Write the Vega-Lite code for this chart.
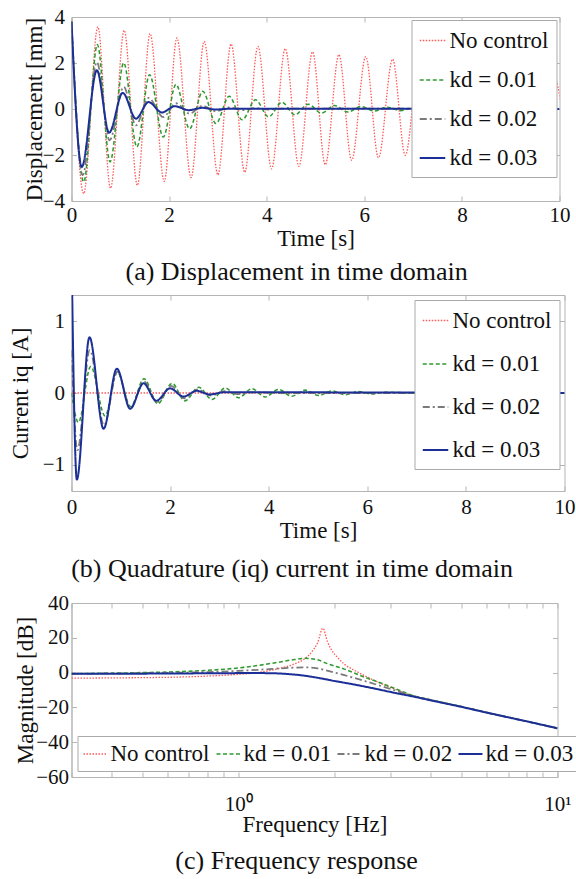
{
  "$schema": "https://vega.github.io/schema/vega-lite/v6.json",
  "padding": {"left": 8.5, "top": 5, "right": 0, "bottom": 0},
  "background": "white",
  "spacing": 8,
  "datasets": {
    "disp": [
      {"t":0,"v":3.8,"s":"No control"},{"t":0.25,"v":-3.68,"s":"No control"},{"t":0.54,"v":3.57,"s":"No control"},{"t":0.8,"v":-3.45,"s":"No control"},{"t":1.08,"v":3.42,"s":"No control"},{"t":1.35,"v":-3.32,"s":"No control"},{"t":1.61,"v":3.28,"s":"No control"},{"t":1.9,"v":-3.15,"s":"No control"},{"t":2.16,"v":3.09,"s":"No control"},{"t":2.45,"v":-2.98,"s":"No control"},{"t":2.72,"v":2.94,"s":"No control"},{"t":3.0,"v":-2.86,"s":"No control"},{"t":3.27,"v":2.82,"s":"No control"},{"t":3.55,"v":-2.75,"s":"No control"},{"t":3.82,"v":2.72,"s":"No control"},{"t":4.1,"v":-2.6,"s":"No control"},{"t":4.38,"v":2.62,"s":"No control"},{"t":4.66,"v":-2.49,"s":"No control"},{"t":4.94,"v":2.48,"s":"No control"},{"t":5.2,"v":-2.42,"s":"No control"},{"t":5.48,"v":2.36,"s":"No control"},{"t":5.74,"v":-2.23,"s":"No control"},{"t":6.03,"v":2.28,"s":"No control"},{"t":6.29,"v":-2.12,"s":"No control"},{"t":6.58,"v":2.16,"s":"No control"},{"t":6.84,"v":-2.01,"s":"No control"},{"t":7.12,"v":2.0,"s":"No control"},{"t":7.39,"v":-1.93,"s":"No control"},{"t":7.67,"v":1.88,"s":"No control"},{"t":7.94,"v":-1.82,"s":"No control"},{"t":8.22,"v":1.77,"s":"No control"},{"t":8.49,"v":-1.72,"s":"No control"},{"t":8.77,"v":1.67,"s":"No control"},{"t":9.04,"v":-1.62,"s":"No control"},{"t":9.32,"v":1.58,"s":"No control"},{"t":9.59,"v":-1.53,"s":"No control"},{"t":9.87,"v":1.48,"s":"No control"},{"t":10.14,"v":-1.45,"s":"No control"},
      {"t":0,"v":3.8,"s":"kd = 0.01"},{"t":0.25,"v":-3.17,"s":"kd = 0.01"},{"t":0.53,"v":2.8,"s":"kd = 0.01"},{"t":0.79,"v":-2.3,"s":"kd = 0.01"},{"t":1.07,"v":2.01,"s":"kd = 0.01"},{"t":1.34,"v":-1.65,"s":"kd = 0.01"},{"t":1.6,"v":1.49,"s":"kd = 0.01"},{"t":1.88,"v":-1.22,"s":"kd = 0.01"},{"t":2.14,"v":1.07,"s":"kd = 0.01"},{"t":2.42,"v":-0.86,"s":"kd = 0.01"},{"t":2.69,"v":0.77,"s":"kd = 0.01"},{"t":2.96,"v":-0.63,"s":"kd = 0.01"},{"t":3.23,"v":0.55,"s":"kd = 0.01"},{"t":3.5,"v":-0.47,"s":"kd = 0.01"},{"t":3.77,"v":0.4,"s":"kd = 0.01"},{"t":4.04,"v":-0.34,"s":"kd = 0.01"},{"t":4.31,"v":0.29,"s":"kd = 0.01"},{"t":4.58,"v":-0.25,"s":"kd = 0.01"},{"t":4.85,"v":0.21,"s":"kd = 0.01"},{"t":5.12,"v":-0.18,"s":"kd = 0.01"},{"t":5.39,"v":0.15,"s":"kd = 0.01"},{"t":5.66,"v":-0.13,"s":"kd = 0.01"},{"t":5.93,"v":0.11,"s":"kd = 0.01"},{"t":6.2,"v":-0.09,"s":"kd = 0.01"},{"t":6.47,"v":0.08,"s":"kd = 0.01"},{"t":6.74,"v":-0.07,"s":"kd = 0.01"},{"t":7.01,"v":0.06,"s":"kd = 0.01"},{"t":7.28,"v":-0.05,"s":"kd = 0.01"},{"t":7.55,"v":0.04,"s":"kd = 0.01"},{"t":7.82,"v":-0.035,"s":"kd = 0.01"},{"t":8.09,"v":0.03,"s":"kd = 0.01"},{"t":8.36,"v":-0.025,"s":"kd = 0.01"},{"t":8.63,"v":0.02,"s":"kd = 0.01"},{"t":10,"v":0,"s":"kd = 0.01"},
      {"t":0,"v":3.8,"s":"kd = 0.02"},{"t":0.23,"v":-2.88,"s":"kd = 0.02"},{"t":0.52,"v":2.04,"s":"kd = 0.02"},{"t":0.78,"v":-1.36,"s":"kd = 0.02"},{"t":1.07,"v":0.96,"s":"kd = 0.02"},{"t":1.32,"v":-0.71,"s":"kd = 0.02"},{"t":1.58,"v":0.48,"s":"kd = 0.02"},{"t":1.88,"v":-0.35,"s":"kd = 0.02"},{"t":2.14,"v":0.25,"s":"kd = 0.02"},{"t":2.42,"v":-0.2,"s":"kd = 0.02"},{"t":2.69,"v":0.14,"s":"kd = 0.02"},{"t":2.96,"v":-0.1,"s":"kd = 0.02"},{"t":3.23,"v":0.07,"s":"kd = 0.02"},{"t":3.5,"v":-0.05,"s":"kd = 0.02"},{"t":3.77,"v":0.035,"s":"kd = 0.02"},{"t":4.04,"v":-0.025,"s":"kd = 0.02"},{"t":4.31,"v":0.015,"s":"kd = 0.02"},{"t":10,"v":0,"s":"kd = 0.02"},
      {"t":0,"v":3.8,"s":"kd = 0.03"},{"t":0.21,"v":-2.52,"s":"kd = 0.03"},{"t":0.52,"v":1.68,"s":"kd = 0.03"},{"t":0.77,"v":-1.03,"s":"kd = 0.03"},{"t":1.05,"v":0.7,"s":"kd = 0.03"},{"t":1.32,"v":-0.42,"s":"kd = 0.03"},{"t":1.58,"v":0.3,"s":"kd = 0.03"},{"t":1.85,"v":-0.15,"s":"kd = 0.03"},{"t":2.12,"v":0.12,"s":"kd = 0.03"},{"t":2.4,"v":-0.05,"s":"kd = 0.03"},{"t":2.68,"v":0.05,"s":"kd = 0.03"},{"t":2.95,"v":-0.02,"s":"kd = 0.03"},{"t":3.25,"v":0.01,"s":"kd = 0.03"},{"t":10,"v":0,"s":"kd = 0.03"}
    ],
    "curr": [
      {"t":0,"v":0,"s":"No control"},{"t":10,"v":0,"s":"No control"},
      {"t":0,"v":0,"s":"kd = 0.01"},{"t":0.14,"v":-0.41,"s":"kd = 0.01"},{"t":0.39,"v":0.37,"s":"kd = 0.01"},{"t":0.68,"v":-0.32,"s":"kd = 0.01"},{"t":0.93,"v":0.29,"s":"kd = 0.01"},{"t":1.2,"v":-0.19,"s":"kd = 0.01"},{"t":1.47,"v":0.2,"s":"kd = 0.01"},{"t":1.75,"v":-0.15,"s":"kd = 0.01"},{"t":2.04,"v":0.135,"s":"kd = 0.01"},{"t":2.3,"v":-0.11,"s":"kd = 0.01"},{"t":2.58,"v":0.08,"s":"kd = 0.01"},{"t":2.85,"v":-0.09,"s":"kd = 0.01"},{"t":3.12,"v":0.07,"s":"kd = 0.01"},{"t":3.39,"v":-0.065,"s":"kd = 0.01"},{"t":3.66,"v":0.06,"s":"kd = 0.01"},{"t":3.93,"v":-0.055,"s":"kd = 0.01"},{"t":4.2,"v":0.05,"s":"kd = 0.01"},{"t":4.47,"v":-0.045,"s":"kd = 0.01"},{"t":4.74,"v":0.04,"s":"kd = 0.01"},{"t":5.01,"v":-0.035,"s":"kd = 0.01"},{"t":5.28,"v":0.03,"s":"kd = 0.01"},{"t":5.55,"v":-0.025,"s":"kd = 0.01"},{"t":5.82,"v":0.02,"s":"kd = 0.01"},{"t":6.09,"v":-0.015,"s":"kd = 0.01"},{"t":6.36,"v":0.01,"s":"kd = 0.01"},{"t":7,"v":0,"s":"kd = 0.01"},{"t":10,"v":0,"s":"kd = 0.01"},
      {"t":0,"v":0.6,"s":"kd = 0.02"},{"t":0.12,"v":-0.8,"s":"kd = 0.02"},{"t":0.37,"v":0.6,"s":"kd = 0.02"},{"t":0.66,"v":-0.45,"s":"kd = 0.02"},{"t":0.93,"v":0.3,"s":"kd = 0.02"},{"t":1.2,"v":-0.21,"s":"kd = 0.02"},{"t":1.47,"v":0.16,"s":"kd = 0.02"},{"t":1.74,"v":-0.13,"s":"kd = 0.02"},{"t":2.02,"v":0.1,"s":"kd = 0.02"},{"t":2.29,"v":-0.075,"s":"kd = 0.02"},{"t":2.56,"v":0.05,"s":"kd = 0.02"},{"t":2.83,"v":-0.035,"s":"kd = 0.02"},{"t":3.1,"v":0.025,"s":"kd = 0.02"},{"t":3.37,"v":-0.015,"s":"kd = 0.02"},{"t":3.64,"v":0.01,"s":"kd = 0.02"},{"t":4.2,"v":0,"s":"kd = 0.02"},{"t":10,"v":0,"s":"kd = 0.02"},
      {"t":0,"v":2.0,"s":"kd = 0.03"},{"t":0.108,"v":-1.21,"s":"kd = 0.03"},{"t":0.365,"v":0.78,"s":"kd = 0.03"},{"t":0.65,"v":-0.5,"s":"kd = 0.03"},{"t":0.92,"v":0.34,"s":"kd = 0.03"},{"t":1.19,"v":-0.22,"s":"kd = 0.03"},{"t":1.46,"v":0.135,"s":"kd = 0.03"},{"t":1.72,"v":-0.11,"s":"kd = 0.03"},{"t":2.0,"v":0.065,"s":"kd = 0.03"},{"t":2.27,"v":-0.05,"s":"kd = 0.03"},{"t":2.54,"v":0.03,"s":"kd = 0.03"},{"t":2.8,"v":-0.02,"s":"kd = 0.03"},{"t":3.1,"v":0.01,"s":"kd = 0.03"},{"t":10,"v":0,"s":"kd = 0.03"}
    ],
    "freq": [
      {"f":0.3,"v":-3.2,"s":"No control"},{"f":0.4,"v":-3.05,"s":"No control"},{"f":0.5,"v":-2.9,"s":"No control"},{"f":0.64,"v":-2.6,"s":"No control"},{"f":0.8,"v":-2.0,"s":"No control"},{"f":0.97,"v":-1.2,"s":"No control"},{"f":1.15,"v":0.0,"s":"No control"},{"f":1.33,"v":2.2,"s":"No control"},{"f":1.5,"v":5.0,"s":"No control"},{"f":1.61,"v":7.8,"s":"No control"},{"f":1.7,"v":12,"s":"No control"},{"f":1.77,"v":17,"s":"No control"},{"f":1.84,"v":25.5,"s":"No control"},{"f":1.9,"v":18,"s":"No control"},{"f":1.95,"v":13.6,"s":"No control"},{"f":2.05,"v":8.5,"s":"No control"},{"f":2.15,"v":4.8,"s":"No control"},{"f":2.3,"v":1.5,"s":"No control"},{"f":2.44,"v":-1.0,"s":"No control"},{"f":2.74,"v":-5.5,"s":"No control"},{"f":3.1,"v":-9.5,"s":"No control"},{"f":3.5,"v":-13.3,"s":"No control"},{"f":4,"v":-15.7,"s":"No control"},{"f":5,"v":-19.6,"s":"No control"},{"f":6,"v":-22.9,"s":"No control"},{"f":7,"v":-25.6,"s":"No control"},{"f":8,"v":-28.0,"s":"No control"},{"f":9,"v":-30.1,"s":"No control"},{"f":10,"v":-32.0,"s":"No control"},
      {"f":0.3,"v":-0.6,"s":"kd = 0.01"},{"f":0.5,"v":0.0,"s":"kd = 0.01"},{"f":0.64,"v":0.5,"s":"kd = 0.01"},{"f":0.8,"v":1.3,"s":"kd = 0.01"},{"f":1.04,"v":3.0,"s":"kd = 0.01"},{"f":1.33,"v":5.9,"s":"kd = 0.01"},{"f":1.5,"v":7.5,"s":"kd = 0.01"},{"f":1.62,"v":8.2,"s":"kd = 0.01"},{"f":1.75,"v":7.6,"s":"kd = 0.01"},{"f":1.91,"v":5.0,"s":"kd = 0.01"},{"f":2.15,"v":2.0,"s":"kd = 0.01"},{"f":2.49,"v":-2.7,"s":"kd = 0.01"},{"f":2.74,"v":-5.4,"s":"kd = 0.01"},{"f":3.1,"v":-9.2,"s":"kd = 0.01"},{"f":3.5,"v":-13.0,"s":"kd = 0.01"},{"f":4,"v":-15.6,"s":"kd = 0.01"},{"f":5,"v":-19.5,"s":"kd = 0.01"},{"f":6,"v":-22.9,"s":"kd = 0.01"},{"f":7,"v":-25.6,"s":"kd = 0.01"},{"f":8,"v":-28.0,"s":"kd = 0.01"},{"f":9,"v":-30.1,"s":"kd = 0.01"},{"f":10,"v":-32.0,"s":"kd = 0.01"},
      {"f":0.3,"v":-0.6,"s":"kd = 0.02"},{"f":0.5,"v":-0.3,"s":"kd = 0.02"},{"f":0.8,"v":0.3,"s":"kd = 0.02"},{"f":1.0,"v":1.0,"s":"kd = 0.02"},{"f":1.2,"v":1.8,"s":"kd = 0.02"},{"f":1.4,"v":2.6,"s":"kd = 0.02"},{"f":1.6,"v":3.0,"s":"kd = 0.02"},{"f":1.75,"v":2.6,"s":"kd = 0.02"},{"f":1.91,"v":1.0,"s":"kd = 0.02"},{"f":2.15,"v":-1.5,"s":"kd = 0.02"},{"f":2.38,"v":-3.8,"s":"kd = 0.02"},{"f":2.74,"v":-7.2,"s":"kd = 0.02"},{"f":3.1,"v":-10.3,"s":"kd = 0.02"},{"f":3.5,"v":-13.3,"s":"kd = 0.02"},{"f":4,"v":-15.8,"s":"kd = 0.02"},{"f":5,"v":-19.6,"s":"kd = 0.02"},{"f":6,"v":-23.0,"s":"kd = 0.02"},{"f":7,"v":-25.7,"s":"kd = 0.02"},{"f":8,"v":-28.0,"s":"kd = 0.02"},{"f":9,"v":-30.1,"s":"kd = 0.02"},{"f":10,"v":-32.0,"s":"kd = 0.02"},
      {"f":0.3,"v":-0.7,"s":"kd = 0.03"},{"f":0.5,"v":-0.6,"s":"kd = 0.03"},{"f":0.8,"v":-0.4,"s":"kd = 0.03"},{"f":1.0,"v":-0.3,"s":"kd = 0.03"},{"f":1.2,"v":-0.3,"s":"kd = 0.03"},{"f":1.4,"v":-0.7,"s":"kd = 0.03"},{"f":1.6,"v":-1.7,"s":"kd = 0.03"},{"f":1.8,"v":-3.2,"s":"kd = 0.03"},{"f":2.0,"v":-4.8,"s":"kd = 0.03"},{"f":2.3,"v":-6.8,"s":"kd = 0.03"},{"f":2.74,"v":-9.6,"s":"kd = 0.03"},{"f":3.1,"v":-11.7,"s":"kd = 0.03"},{"f":3.5,"v":-13.6,"s":"kd = 0.03"},{"f":4,"v":-15.9,"s":"kd = 0.03"},{"f":5,"v":-19.7,"s":"kd = 0.03"},{"f":6,"v":-23.0,"s":"kd = 0.03"},{"f":7,"v":-25.7,"s":"kd = 0.03"},{"f":8,"v":-28.0,"s":"kd = 0.03"},{"f":9,"v":-30.1,"s":"kd = 0.03"},{"f":10,"v":-32.0,"s":"kd = 0.03"}
    ]
  },
  "resolve": {
    "scale": {"color": "independent", "strokeDash": "independent", "strokeWidth": "independent"},
    "legend": {"color": "independent", "strokeDash": "independent", "strokeWidth": "independent"}
  },
  "vconcat": [
    {
      "width": 488, "height": 184,
      "title": {"text": "(a) Displacement in time domain", "orient": "bottom", "frame": "bounds", "offset": 9},
      "data": {"name": "disp"},
      "resolve": {"axis": {"x": "independent", "y": "independent"}},
      "layer": [
        {
          "mark": {"type": "line", "interpolate": "monotone", "clip": true},
          "encoding": {
            "x": {"field": "t", "type": "quantitative", "title": "Time [s]", "scale": {"domain": [0, 10], "nice": false}, "axis": {"values": [0,2,4,6,8,10], "labelPadding": 8, "titlePadding": 2}},
            "y": {"field": "v", "type": "quantitative", "title": "Displacement [mm]", "scale": {"domain": [-4, 4], "nice": false}, "axis": {"values": [-4,-2,0,2,4], "labelPadding": 12, "titlePadding": -4}},
            "color": {"field": "s", "type": "nominal", "scale": {"domain": ["No control","kd = 0.01","kd = 0.02","kd = 0.03"], "range": ["#ff5a5a","#2e9a2e","#7a7a7a","#1b2f96"]}, "legend": {"title": null, "orient": "top-right", "offset": 3, "rowPadding": 13}},
            "strokeDash": {"field": "s", "type": "nominal", "scale": {"domain": ["No control","kd = 0.01","kd = 0.02","kd = 0.03"], "range": [[1.5,1.5],[4,2.5],[7,3,2,3],[1,0]]}, "legend": {"title": null, "orient": "top-right", "offset": 3, "rowPadding": 13}},
            "strokeWidth": {"field": "s", "type": "nominal", "scale": {"domain": ["No control","kd = 0.01","kd = 0.02","kd = 0.03"], "range": [1.3, 2, 2.2, 3]}, "legend": {"title": null, "orient": "top-right", "offset": 3, "rowPadding": 13}}
          }
        },
        {
          "mark": {"type": "point", "opacity": 0},
          "encoding": {
            "x": {"datum": 0, "type": "quantitative", "axis": {"orient": "top", "values": [0,2,4,6,8,10], "labels": false, "title": null, "domain": false}},
            "y": {"datum": 0, "type": "quantitative", "axis": {"orient": "right", "values": [-4,-2,0,2,4], "labels": false, "title": null, "domain": false}}
          }
        }
      ]
    },
    {
      "width": 493, "height": 196,
      "title": {"text": "(b) Quadrature (iq) current in time domain", "orient": "bottom", "frame": "bounds", "offset": 14},
      "data": {"name": "curr"},
      "resolve": {"axis": {"x": "independent", "y": "independent"}},
      "layer": [
        {
          "mark": {"type": "line", "interpolate": "monotone", "clip": true},
          "encoding": {
            "x": {"field": "t", "type": "quantitative", "title": "Time [s]", "scale": {"domain": [0, 10], "nice": false}, "axis": {"values": [0,2,4,6,8,10], "labelPadding": 10, "titlePadding": 2}},
            "y": {"field": "v", "type": "quantitative", "title": "Current iq [A]", "scale": {"domain": [-1.37, 1.37], "nice": false}, "axis": {"values": [-1,0,1], "labelPadding": 12, "titlePadding": 10}},
            "color": {"field": "s", "type": "nominal", "scale": {"domain": ["No control","kd = 0.01","kd = 0.02","kd = 0.03"], "range": ["#ff5a5a","#2e9a2e","#7a7a7a","#1b2f96"]}, "legend": {"title": null, "orient": "top-right", "offset": 5, "rowPadding": 17}},
            "strokeDash": {"field": "s", "type": "nominal", "scale": {"domain": ["No control","kd = 0.01","kd = 0.02","kd = 0.03"], "range": [[1.5,1.5],[4,2.5],[7,3,2,3],[1,0]]}, "legend": {"title": null, "orient": "top-right", "offset": 5, "rowPadding": 17}},
            "strokeWidth": {"field": "s", "type": "nominal", "scale": {"domain": ["No control","kd = 0.01","kd = 0.02","kd = 0.03"], "range": [1.3, 2, 2.2, 3]}, "legend": {"title": null, "orient": "top-right", "offset": 5, "rowPadding": 17}}
          }
        },
        {
          "mark": {"type": "point", "opacity": 0},
          "encoding": {
            "x": {"datum": 0, "type": "quantitative", "axis": {"orient": "top", "values": [0,2,4,6,8,10], "labels": false, "title": null, "domain": false}},
            "y": {"datum": 0, "type": "quantitative", "axis": {"orient": "right", "values": [-1,0,1], "labels": false, "title": null, "domain": false}}
          }
        }
      ]
    },
    {
      "width": 486, "height": 174,
      "title": {"text": "(c) Frequency response", "orient": "bottom", "frame": "bounds", "offset": 12},
      "data": {"name": "freq"},
      "resolve": {"axis": {"x": "independent", "y": "independent"}},
      "layer": [
        {
          "mark": {"type": "line", "interpolate": "monotone", "clip": true},
          "encoding": {
            "x": {"field": "f", "type": "quantitative", "title": "Frequency [Hz]", "scale": {"type": "log", "domain": [0.3, 10], "nice": false}, "axis": {"values": [0.3,0.4,0.5,0.6,0.7,0.8,0.9,1,2,3,4,5,6,7,8,9,10], "labelExpr": "datum.value == 1 ? '10⁰' : (datum.value == 10 ? '10¹' : '')", "labelPadding": 21, "titlePadding": -1}},
            "y": {"field": "v", "type": "quantitative", "title": "Magnitude [dB]", "scale": {"domain": [-60, 40], "nice": false}, "axis": {"values": [-60,-40,-20,0,20,40], "labelPadding": 8, "titlePadding": -1.5}},
            "color": {"field": "s", "type": "nominal", "scale": {"domain": ["No control","kd = 0.01","kd = 0.02","kd = 0.03"], "range": ["#ff5a5a","#2e9a2e","#7a7a7a","#1b2f96"]}, "legend": {"title": null, "orient": "bottom-left", "direction": "horizontal", "offset": 6, "columnPadding": 2, "symbolSize": 576, "labelOffset": 2, "padding": 5}},
            "strokeDash": {"field": "s", "type": "nominal", "scale": {"domain": ["No control","kd = 0.01","kd = 0.02","kd = 0.03"], "range": [[1.5,1.5],[4,2.5],[7,3,2,3],[1,0]]}, "legend": {"title": null, "orient": "bottom-left", "direction": "horizontal", "offset": 6, "columnPadding": 2, "symbolSize": 576, "labelOffset": 2, "padding": 5}},
            "strokeWidth": {"field": "s", "type": "nominal", "scale": {"domain": ["No control","kd = 0.01","kd = 0.02","kd = 0.03"], "range": [1.3, 2, 2.2, 3]}, "legend": {"title": null, "orient": "bottom-left", "direction": "horizontal", "offset": 6, "columnPadding": 2, "symbolSize": 576, "labelOffset": 2, "padding": 5}}
          }
        },
        {
          "mark": {"type": "point", "opacity": 0},
          "encoding": {
            "x": {"datum": 1, "type": "quantitative", "axis": {"orient": "top", "values": [0.3,0.4,0.5,0.6,0.7,0.8,0.9,1,2,3,4,5,6,7,8,9,10], "labels": false, "title": null, "domain": false}},
            "y": {"datum": 0, "type": "quantitative", "axis": {"orient": "right", "values": [-60,-40,-20,0,20,40], "labels": false, "title": null, "domain": false}}
          }
        }
      ]
    }
  ],
  "config": {
    "font": "Liberation Serif",
    "style": {"guide-label": {"font": "Liberation Serif", "fontSize": 21, "fill": "#111"}, "guide-title": {"font": "Liberation Serif"}},
    "view": {"stroke": "#b5b5b5", "strokeWidth": 1},
    "axis": {"labelFont": "Liberation Serif", "labelFontSize": 21, "labelColor": "#111", "titleFont": "Liberation Serif", "titleFontSize": 23, "titleFontWeight": "normal", "titleColor": "#111", "domainColor": "#b5b5b5", "tickColor": "#b5b5b5", "tickSize": -5, "grid": false, "labelPadding": 8, "labelFlush": false, "titlePadding": 2, "labelOverlap": false},
    "legend": {"labelFont": "Liberation Serif", "labelFontSize": 23, "labelColor": "#111", "symbolType": "stroke", "symbolSize": 650, "strokeColor": "#aaaaaa", "fillColor": "white", "padding": 7, "rowPadding": 13, "labelOffset": 3, "zindex": 1, "cornerRadius": 0, "labelLimit": 300},
    "title": {"font": "Liberation Serif", "fontSize": 26, "fontWeight": "normal", "color": "#111"}
  }
}
